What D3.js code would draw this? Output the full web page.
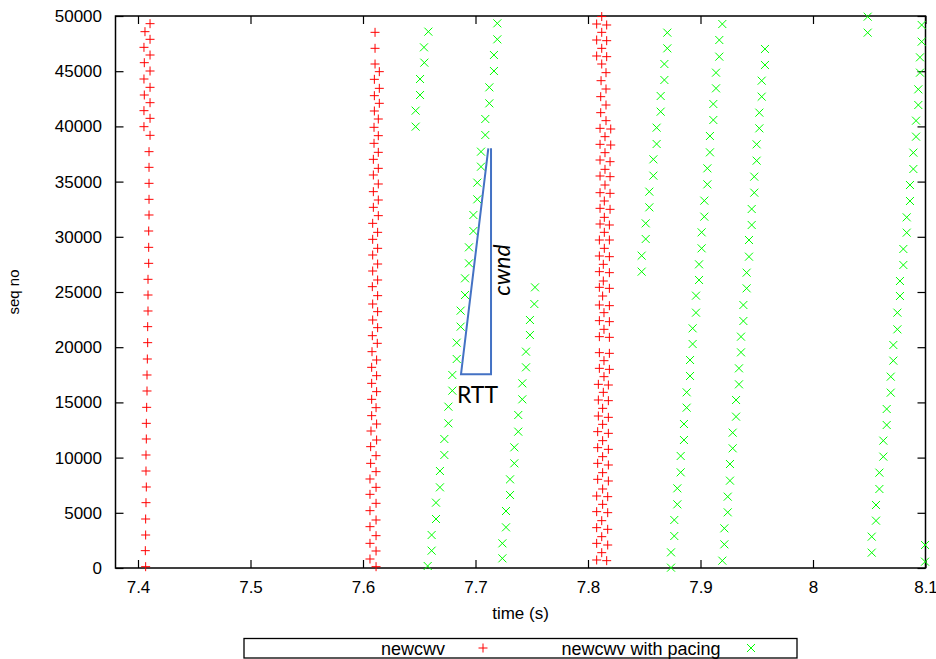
<!DOCTYPE html>
<html><head><meta charset="utf-8">
<script src="https://cdn.jsdelivr.net/npm/d3@7"></script>
<style>body{margin:0;background:#fff}svg{display:block}</style>
</head><body>
<svg id="chart" width="936" height="659"></svg>
<script>
// ---------- data ----------
const xTicks = [7.4, 7.5, 7.6, 7.7, 7.8, 7.9, 8.0, 8.1];
const yTicks = [0, 5000, 10000, 15000, 20000, 25000, 30000, 35000, 40000, 45000, 50000];
const seriesNames = ["newcwv", "newcwv with pacing"];
const xLabel = "time (s)";
const yLabel = "seq no";

// newcwv (red +): [time, seq]
const newcwvBurst1 = [[7.4107,49306],[7.4062,48581],[7.4107,47887],[7.4053,47162],[7.4107,46467],[7.4056,45772],[7.4107,45018],[7.4053,44293],[7.4107,43538],[7.4056,42844],[7.4107,42149],[7.4053,41425],[7.4107,40730],[7.4053,39975],[7.4107,39191],
[7.4098,37712],[7.4098,36292],[7.4098,34843],[7.4098,33394],[7.4098,31975],[7.4095,30525],[7.4095,29046],[7.4095,27597],[7.4089,26148],[7.4089,24728],
[7.4089,23279],[7.4086,21860],[7.4086,20411],[7.4083,18931],[7.408,17482],[7.408,16033],[7.4077,14553],[7.4074,13104],[7.4074,11685],[7.4071,10236],[7.4071,8786],[7.4074,7337],[7.4071,5918],[7.4068,4438],[7.4068,2989],[7.4065,1570],[7.4068,120]];

const newcwvBurst2 = [[7.6107,48521],[7.6107,47072],[7.6107,45652],[7.6145,44958],[7.6101,44263],[7.6145,43448],[7.6101,42784],[7.6145,42090],[7.6101,41395],[7.6136,40670],[7.6098,39916],[7.6136,39160],[7.6098,38466],[7.6136,37651],[7.6092,37017],[7.6136,36202],[7.6092,35598],[7.6136,34783],[7.6092,34088],[7.6136,33333],[7.6092,32669],[7.6136,31915],[7.6086,31220],[7.613,30405],[7.6086,29770],[7.613,28956],[7.6086,28351],[7.613,27536],[7.6086,26902],[7.613,26087],[7.6083,25483],[7.613,24668],
[7.6086,23913],[7.613,23219],[7.6086,22464],[7.613,21769],[7.6083,21044],[7.6127,20351],[7.608,19595],[7.6121,18841],[7.6077,18177],[7.6121,17421],[7.6077,16727],[7.6121,15972],[7.6077,15278],[7.6116,14523],[7.6077,13798],[7.6121,13043],[7.6071,12409],[7.6121,11594],[7.6068,10990],[7.6116,10175],[7.6068,9481],[7.6116,8726],[7.6062,8062],[7.6116,7307],[7.6062,6673],[7.6116,5858],[7.6062,5193],[7.6116,4348],[7.6062,3744],[7.6116,2929],[7.6062,2234],[7.6116,1540],[7.6062,815],[7.6116,120]];

const newcwvBurst3 = [[7.8122,49950],[7.8077,49275],[7.8166,49185],[7.8122,48520],[7.8077,47826],[7.8166,47765],[7.8122,47071],[7.8077,46377],[7.8166,46316],[7.8122,45652],[7.816,44867],[7.8116,44142],[7.816,43387],[7.8113,42693],[7.816,41938],[7.8113,41244],[7.816,40519],[7.8107,39825],[7.8202,39764],[7.8151,39070],[7.8107,38375],[7.8202,38315],[7.8151,37621],[7.8107,36956],[7.8196,36805],[7.8151,36111],[7.8107,35507],[7.8196,35447],[7.8151,34692],[7.8107,33997],[7.8196,33937],[7.8145,33243],[7.8107,32578],[7.8196,32488],[7.8145,31763],[7.8107,31159],[7.819,31069],[7.8145,30404],[7.8101,29710],[7.819,29710],[7.8145,28955],[7.8101,28261],[7.819,28200],[7.8136,27506],[7.8101,26842],[7.819,26751],[7.8136,25996],[7.8101,25423],[7.819,25332],[7.813,24637],
[7.8101,23822],[7.819,23762],[7.8142,23128],[7.8101,22403],[7.819,22313],[7.8142,21618],[7.8101,20954],[7.819,20894],[7.8101,19505],[7.819,19444],[7.8142,18780],[7.8101,18086],[7.819,17995],[7.8142,17331],[7.8092,16636],[7.8181,16576],[7.8136,15912],[7.8092,15217],[7.8181,15157],[7.813,14462],[7.8092,13768],[7.8181,13647],[7.813,13013],[7.8086,12349],[7.8181,12198],[7.813,11534],[7.8086,10900],[7.8181,10749],[7.813,10085],[7.8086,9481],[7.8181,9330],[7.813,8635],[7.8086,8032],[7.8181,7881],[7.813,7156],[7.8077,6522],[7.8175,6461],[7.813,5767],[7.8077,5103],[7.8175,5012],[7.8122,4287],[7.8077,3654],[7.8175,3503],[7.8122,2838],[7.8077,2234],[7.8175,2083],[7.8122,1389],[7.8077,725],[7.8166,664]];

// newcwv with pacing (green x): [time, seq]
const pacedRun1 = [[7.6581,48581],[7.6542,47162],[7.6545,45773],[7.6507,44293],[7.6507,42844],[7.6468,41425],[7.6468,39976]];
const pacedRun2 = [[7.7194,49336],[7.7194,47886],[7.7164,46467],[7.7164,45018],[7.7123,43538],[7.7123,42089],[7.7087,40670],[7.7087,39221],[7.7049,37711],[7.7049,36352],[7.7016,34903],[7.7016,33393],[7.6981,31974],[7.6981,30525],[7.6942,29046],[7.6942,27597],[7.6907,26238],[7.6907,24728],[7.6868,23309],[7.6868,21860],[7.6833,20411],[7.6833,18931],[7.6794,17482],[7.6794,16063],[7.6759,14613],[7.6759,13104],[7.6723,11685],[7.6723,10236],[7.6684,8786],[7.6684,7307],[7.6649,5918],[7.6649,4438],[7.661,2989],[7.661,1570],[7.6575,181]];
const pacedRun3 = [[7.7529,25423],[7.7523,23913],[7.7484,22464],[7.7484,21105],[7.7449,19595],[7.7449,18176],[7.7416,16727],[7.7416,15278],[7.738,13858],[7.738,12349],[7.7345,10930],[7.7345,9481],[7.7307,8032],[7.7307,6612],[7.7271,5163],[7.7271,3684],[7.7239,2234],[7.7239,875]];
const pacedRun4 = [[7.8705,48490],[7.8705,47071],[7.8679,45652],[7.8679,44203],[7.8646,42753],[7.8646,41334],[7.861,39885],[7.861,38406],[7.8581,37017],[7.8581,35538],[7.8545,34088],[7.8545,32669],[7.8513,31220],[7.8513,29801],[7.8477,28291],[7.8477,26842]];
const pacedRun5 = [[7.9194,49275],[7.9167,47826],[7.9167,46316],[7.9138,44867],[7.9138,43448],[7.9114,42029],[7.9114,40580],[7.9084,39130],[7.9084,37651],[7.9061,36202],[7.9061,34752],[7.9034,33273],[7.9034,31824],[7.901,30405],[7.901,28955],[7.8987,27506],[7.8987,26087],[7.896,24668],[7.896,23128],[7.893,21709],[7.893,20290],[7.8907,18841],[7.8907,17392],[7.8877,15912],[7.8877,14523],[7.8853,13043],[7.8853,11594],[7.8824,10145],[7.8824,8666],[7.8794,7216],[7.8794,5767],[7.8767,4348],[7.8767,2898],[7.8738,1419],[7.8738,30]];
const pacedRun6 = [[7.9573,47011],[7.9573,45562],[7.9544,44142],[7.9544,42693],[7.9523,41244],[7.9523,39825],[7.9499,38375],[7.9499,36896],[7.9478,35447],[7.9478,33997],[7.9455,32518],[7.9455,31069],[7.9431,29710],[7.9431,28200],[7.941,26751],[7.941,25332],[7.9381,23822],[7.9381,22373],[7.936,20954],[7.936,19535],[7.9342,18086],[7.9342,16636],[7.9316,15217],[7.9316,13708],[7.9286,12258],[7.9286,10840],[7.9262,9420],[7.9262,7911],[7.9242,6461],[7.9242,5042],[7.9212,3593],[7.9212,2144],[7.9194,664]];
const pacedRun7 = [[8.0486,49939],[8.0486,48490]];
const pacedRun8 = [[8.0966,49185],[8.0966,47675],[8.0951,46256],[8.0951,44867],[8.0936,43357],[8.0936,41938],[8.0916,40519],[8.0916,39070],[8.0892,37621],[8.0892,36141],[8.0862,34692],[8.0862,33243],[8.0833,31763],[8.0833,30374],[8.0803,28895],[8.0803,27446],[8.0773,25996],[8.0773,24637],[8.075,23128],[8.075,21618],[8.0714,20199],[8.0714,18780],[8.0691,17331],[8.0691,15882],[8.0655,14402],[8.0655,12953],[8.0625,11534],[8.0625,10085],[8.059,8635],[8.059,7156],[8.056,5707],[8.056,4288],[8.0522,2838],[8.0522,1389]];
const pacedRun9 = [[8.0996,2083],[8.0996,573]];

// annotation (data coordinates)
const cwndTriangle = [[7.7114,38016],[7.6871,17545],[7.7138,17545],[7.7138,38016]];
const rttLabel = {text: "RTT", t: 7.7018, seq: 14973};
const cwndLabel = {text: "cwnd", t: 7.7307, seq: 26993};

// ---------- drawing ----------
const svg = d3.select("#chart");
const x = d3.scaleLinear().domain([7.38, 8.1]).range([115.5, 925.5]);
const y = d3.scaleLinear().domain([0, 50000]).range([568, 16]);
const FONT = "'Liberation Sans', Arial, sans-serif";

const fmt = d => d3.format("~g")(d);

function styleAxis(g, labels) {
  g.select(".domain").remove();
  g.selectAll(".tick line").attr("stroke", "#000").attr("stroke-width", 1.2);
  g.selectAll(".tick text").attr("fill", "#000").style("font-family", FONT).style("font-size", "17px");
  if (!labels) g.selectAll(".tick text").remove();
}

svg.append("g").attr("transform", "translate(0,568)")
  .call(d3.axisBottom(x).tickValues(xTicks).tickSize(-8).tickPadding(13).tickFormat(fmt))
  .call(g => styleAxis(g, true));
svg.append("g").attr("transform", "translate(0,16)")
  .call(d3.axisTop(x).tickValues(xTicks).tickSize(-8))
  .call(g => styleAxis(g, false));
svg.append("g").attr("transform", "translate(115.5,0)")
  .call(d3.axisLeft(y).tickValues(yTicks).tickSize(-8).tickPadding(13.5).tickFormat(d3.format("d")))
  .call(g => styleAxis(g, true));
svg.append("g").attr("transform", "translate(925.5,0)")
  .call(d3.axisRight(y).tickValues(yTicks).tickSize(-8))
  .call(g => styleAxis(g, false));

svg.append("rect")
  .attr("x", x.range()[0]).attr("y", y.range()[1])
  .attr("width", x.range()[1] - x.range()[0]).attr("height", y.range()[0] - y.range()[1])
  .attr("fill", "none").attr("stroke", "#000").attr("stroke-width", 1.5);

// axis titles
svg.append("text").attr("x", (x.range()[0] + x.range()[1]) / 2).attr("y", 618.5)
  .attr("text-anchor", "middle").style("font-family", FONT).style("font-size", "17px").text(xLabel);
svg.append("text").attr("transform", `translate(18.5,${(y.range()[0] + y.range()[1]) / 2}) rotate(-90)`)
  .attr("text-anchor", "middle").style("font-family", FONT).style("font-size", "15px").text(yLabel);

// markers
const plusPath = "M-4.5,0H4.5M0,-4.5V4.5";
const crossPath = "M-4,-4L4,4M-4,4L4,-4";
const RED = "#ff0000", GREEN = "#00ff00";

const redPts = [newcwvBurst1, newcwvBurst2, newcwvBurst3].flat();
const greenPts = [pacedRun1, pacedRun2, pacedRun3, pacedRun4, pacedRun5, pacedRun6, pacedRun7, pacedRun8, pacedRun9].flat();

svg.append("g").selectAll("path").data(redPts).join("path")
  .attr("transform", d => `translate(${x(d[0])},${y(d[1])})`)
  .attr("d", plusPath).attr("fill", "none").attr("stroke", RED).attr("stroke-width", 1);

svg.append("g").selectAll("path").data(greenPts).join("path")
  .attr("transform", d => `translate(${x(d[0])},${y(d[1])})`)
  .attr("d", crossPath).attr("fill", "none").attr("stroke", GREEN).attr("stroke-width", 1);

// annotation
svg.append("path")
  .attr("d", d3.line().x(d => x(d[0])).y(d => y(d[1]))(cwndTriangle))
  .attr("fill", "none").attr("stroke", "#4472c4").attr("stroke-width", 2);
svg.append("text").attr("x", x(rttLabel.t)).attr("y", y(rttLabel.seq))
  .attr("text-anchor", "middle").style("font-family", "Lato, 'Open Sans', sans-serif").style("font-size", "23px")
  .text(rttLabel.text);
svg.append("text")
  .attr("transform", `translate(${x(cwndLabel.t)},${y(cwndLabel.seq)}) rotate(-90)`)
  .attr("text-anchor", "middle").style("font-family", "Lato, 'Open Sans', sans-serif").style("font-size", "23px")
  .style("font-style", "italic").text(cwndLabel.text);

// legend
const leg = svg.append("g");
leg.append("rect").attr("x", 244).attr("y", 638.5).attr("width", 553).attr("height", 19.5)
  .attr("fill", "none").attr("stroke", "#000").attr("stroke-width", 1.3);
const legendItems = [
  {name: seriesNames[0], textX: 445, markX: 483, path: plusPath, color: RED},
  {name: seriesNames[1], textX: 720.5, markX: 751, path: crossPath, color: GREEN}
];
legendItems.forEach(it => {
  leg.append("text").attr("x", it.textX).attr("y", 654.5).attr("text-anchor", "end")
    .style("font-family", FONT).style("font-size", "18px").text(it.name);
  leg.append("path").attr("transform", `translate(${it.markX},648)`).attr("d", it.path)
    .attr("fill", "none").attr("stroke", it.color).attr("stroke-width", 1);
});
</script>
</body></html>
